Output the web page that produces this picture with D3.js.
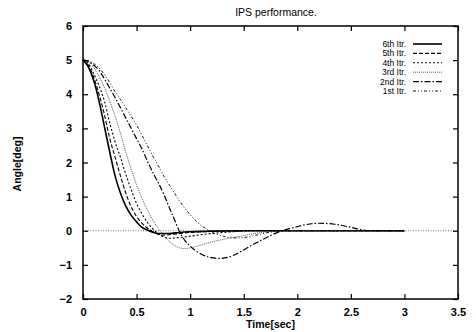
<!DOCTYPE html>
<html>
<head>
<meta charset="utf-8" />
<title>IPS performance</title>
<style>
  body { margin: 0; background: #fff; }
  svg text { font-family: "Liberation Sans", Arial, sans-serif; fill: #000; }
</style>
</head>
<body>
<script src="https://d3js.org/d3.v7.min.js"></script>
<script>
// time samples and angle values for each iteration
var t6 = [0, 0.05, 0.1, 0.15, 0.2, 0.25, 0.3, 0.35, 0.4, 0.45, 0.5, 0.55, 0.6, 0.65, 0.7, 0.8, 0.9, 1.0, 1.2, 1.5, 3.0];
var itr6 = [5, 4.8, 4.4, 3.8, 3.05, 2.3, 1.6, 1.1, 0.72, 0.45, 0.26, 0.1, 0.02, -0.04, -0.08, -0.08, -0.05, -0.03, -0.01, 0, 0];

var t5 = [0, 0.05, 0.1, 0.15, 0.2, 0.25, 0.3, 0.35, 0.4, 0.45, 0.5, 0.55, 0.6, 0.65, 0.7, 0.75, 0.85, 1.0, 1.3, 1.6, 3.0];
var itr5 = [5, 4.85, 4.5, 4.0, 3.4, 2.7, 2.15, 1.6, 1.1, 0.7, 0.42, 0.22, 0.08, -0.02, -0.1, -0.13, -0.1, -0.05, -0.01, 0, 0];

var t4 = [0, 0.05, 0.1, 0.15, 0.2, 0.25, 0.3, 0.35, 0.4, 0.45, 0.5, 0.55, 0.6, 0.65, 0.7, 0.75, 0.8, 0.9, 1.0, 1.2, 1.4, 1.6, 3.0];
var itr4 = [5, 4.9, 4.6, 4.25, 3.8, 3.15, 2.6, 2.15, 1.65, 1.2, 0.8, 0.5, 0.25, 0.06, -0.08, -0.18, -0.22, -0.2, -0.16, -0.08, -0.03, 0, 0];

var t3 = [0, 0.05, 0.1, 0.15, 0.2, 0.25, 0.3, 0.35, 0.4, 0.45, 0.5, 0.55, 0.6, 0.65, 0.7, 0.75, 0.8, 0.85, 0.9, 0.95, 1.0, 1.1, 1.2, 1.3, 1.4, 1.5, 1.6, 1.7, 1.8, 2.0, 3.0];
var itr3 = [5, 4.95, 4.78, 4.52, 4.2, 3.8, 3.35, 2.85, 2.3, 1.8, 1.35, 0.95, 0.62, 0.32, 0.08, -0.12, -0.3, -0.42, -0.5, -0.52, -0.5, -0.42, -0.33, -0.26, -0.2, -0.14, -0.08, -0.04, -0.01, 0, 0];

var t2 = [0, 0.05, 0.1, 0.15, 0.2, 0.25, 0.3, 0.35, 0.4, 0.45, 0.5, 0.55, 0.6, 0.65, 0.7, 0.75, 0.8, 0.85, 0.9, 0.95, 1.0, 1.1, 1.2, 1.27, 1.35, 1.45, 1.55, 1.65, 1.75, 1.85, 1.95, 2.05, 2.2, 2.35, 2.5, 2.6, 2.7, 3.0];
var itr2 = [5, 4.97, 4.85, 4.7, 4.45, 4.18, 3.9, 3.6, 3.3, 3.0, 2.7, 2.4, 2.05, 1.72, 1.42, 1.1, 0.72, 0.35, -0.02, -0.28, -0.45, -0.68, -0.79, -0.81, -0.78, -0.65, -0.47, -0.3, -0.14, -0.01, 0.08, 0.16, 0.22, 0.19, 0.1, 0.03, 0, 0];

var t1 = [0, 0.05, 0.1, 0.15, 0.2, 0.25, 0.3, 0.35, 0.4, 0.45, 0.5, 0.55, 0.6, 0.65, 0.7, 0.75, 0.8, 0.85, 0.9, 0.95, 1.0, 1.05, 1.1, 1.15, 1.2, 1.3, 1.4, 1.5, 1.6, 1.7, 1.8, 1.9, 3.0];
var itr1 = [5, 4.98, 4.9, 4.77, 4.58, 4.35, 4.07, 3.85, 3.6, 3.35, 3.1, 2.8, 2.5, 2.2, 1.92, 1.63, 1.37, 1.12, 0.88, 0.66, 0.47, 0.3, 0.16, 0.05, -0.04, -0.15, -0.21, -0.2, -0.14, -0.07, -0.02, 0, 0];

var legendLabels = ["6th Itr.", "5th Itr.", "4th Itr.", "3rd Itr.", "2nd Itr.", "1st Itr."];
var xTicks = [0, 0.5, 1, 1.5, 2, 2.5, 3, 3.5];
var yTicks = [-2, -1, 0, 1, 2, 3, 4, 5, 6];

var series = [
  {t: t6, v: itr6, dash: null, width: 1.6, color: "#000"},
  {t: t5, v: itr5, dash: "4,2", width: 1.1, color: "#000"},
  {t: t4, v: itr4, dash: "2,2", width: 1.1, color: "#000"},
  {t: t3, v: itr3, dash: "1,1", width: 0.9, color: "#444"},
  {t: t2, v: itr2, dash: "6,2,1.5,2", width: 1.2, color: "#000"},
  {t: t1, v: itr1, dash: "3,2,1,2,1,2", width: 0.9, color: "#000"}
];

var width = 476, height = 332;
var margin = {left: 83, right: 18, top: 26, bottom: 33};

var svg = d3.select("body").append("svg")
  .attr("width", width)
  .attr("height", height);

var x = d3.scaleLinear().domain([0, 3.5]).range([margin.left, width - margin.right]);
var y = d3.scaleLinear().domain([-2, 6]).range([height - margin.bottom, margin.top]);

// zero axis
svg.append("line")
  .attr("x1", x(0)).attr("x2", x(3.5))
  .attr("y1", y(0)).attr("y2", y(0))
  .attr("stroke", "#555").attr("stroke-width", 0.8)
  .attr("stroke-dasharray", "1,1.5");

var line = d3.line()
  .x(d => x(d[0]))
  .y(d => y(d[1]))
  .curve(d3.curveMonotoneX);

series.forEach(function(s) {
  var pts = s.t.map((tt, i) => [tt, s.v[i]]);
  svg.append("path")
    .attr("d", line(pts))
    .attr("fill", "none")
    .attr("stroke", s.color)
    .attr("stroke-width", s.width)
    .attr("stroke-dasharray", s.dash);
});

// axes with inward ticks, mirrored
svg.append("g")
  .attr("transform", "translate(0," + y(-2) + ")")
  .call(d3.axisBottom(x).tickValues(xTicks).tickSizeInner(-5).tickSizeOuter(0).tickPadding(9).tickFormat(d3.format("")))
  .call(g => g.select(".domain").remove())
  .call(g => g.selectAll("text").attr("font-size", 11).attr("font-weight", "bold"));

svg.append("g")
  .attr("transform", "translate(0," + y(6) + ")")
  .call(d3.axisTop(x).tickValues(xTicks).tickSizeInner(-5).tickSizeOuter(0).tickFormat(""))
  .call(g => g.select(".domain").remove());

svg.append("g")
  .attr("transform", "translate(" + x(0) + ",0)")
  .call(d3.axisLeft(y).tickValues(yTicks).tickSizeInner(-5).tickSizeOuter(0).tickPadding(11).tickFormat(d3.format("")))
  .call(g => g.select(".domain").remove())
  .call(g => g.selectAll("text").attr("font-size", 11).attr("font-weight", "bold"));

svg.append("g")
  .attr("transform", "translate(" + x(3.5) + ",0)")
  .call(d3.axisRight(y).tickValues(yTicks).tickSizeInner(-5).tickSizeOuter(0).tickFormat(""))
  .call(g => g.select(".domain").remove());

svg.selectAll(".tick line").attr("stroke-width", 1.2);

// frame
svg.append("rect")
  .attr("x", x(0)).attr("y", y(6))
  .attr("width", x(3.5) - x(0)).attr("height", y(-2) - y(6))
  .attr("fill", "none").attr("stroke", "#000").attr("stroke-width", 1.5);

// title and axis labels
svg.append("text")
  .attr("x", 276).attr("y", 16)
  .attr("text-anchor", "middle")
  .attr("font-size", 10.5)
  .text("IPS performance.");

svg.append("text")
  .attr("x", (x(0) + x(3.5)) / 2).attr("y", 328)
  .attr("text-anchor", "middle")
  .attr("font-size", 10.5).attr("font-weight", "bold")
  .text("Time[sec]");

svg.append("text")
  .attr("transform", "translate(21,164) rotate(-90)")
  .attr("text-anchor", "middle")
  .attr("font-size", 10.5).attr("font-weight", "bold")
  .text("Angle[deg]");

// legend
var legend = svg.append("g");
legendLabels.forEach(function(lbl, i) {
  var ly = 44 + i * 9.4;
  legend.append("text")
    .attr("x", 406).attr("y", ly + 3)
    .attr("text-anchor", "end")
    .attr("font-size", 8.5)
    .text(lbl);
  legend.append("line")
    .attr("x1", 413).attr("x2", 442)
    .attr("y1", ly).attr("y2", ly)
    .attr("stroke", series[i].color)
    .attr("stroke-width", series[i].width)
    .attr("stroke-dasharray", series[i].dash);
});
</script>
</body>
</html>
